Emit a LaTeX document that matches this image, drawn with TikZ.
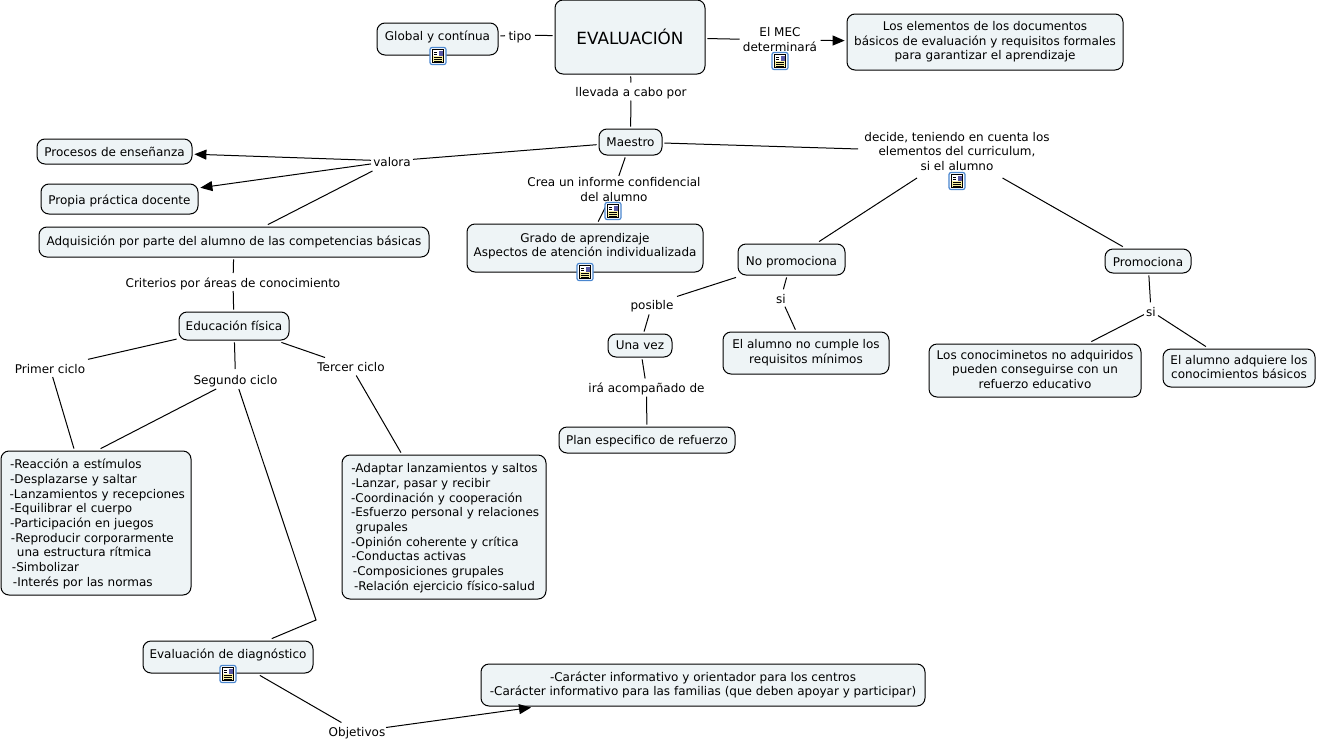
\documentclass[tikz,border=0pt]{standalone}
\usepackage{fontspec}
\setmainfont{DejaVu Sans}
\usetikzlibrary{arrows.meta}
\definecolor{boxfill}{HTML}{EEF4F6}
\definecolor{docyellow}{HTML}{F7EFA0}
\definecolor{iconblue}{HTML}{4A86CF}
\newcommand{\textprop}{\rule[-2.5pt]{0pt}{11.5pt}}
\newcommand{\labelprop}{\rule[-2.5pt]{0pt}{13pt}}
\newcommand{\dnA}[1]{\raisebox{-0.75pt}{#1}}
\newcommand{\dnB}[1]{\raisebox{-1.5pt}{#1}}
\tikzset{
  sz/.style 2 args={minimum width=#1*0.75pt,minimum height=#2*0.75pt},
  concept/.style={draw=black,line width=0.75pt,fill=boxfill,rounded corners=6pt,inner sep=0pt,outer sep=1.8pt,align=center,font=\fontsize{9}{11}\selectfont,execute at begin node=\textprop,execute at end node=\textprop},
  leftlist/.style={concept,align=left},
  linklabel/.style={inner sep=0pt,outer sep=0pt,align=center,font=\fontsize{9}{11}\selectfont,execute at begin node=\labelprop,execute at end node=\labelprop},
  conn/.style={draw=black,line width=0.75pt},
  arrowconn/.style={conn,-{Triangle[length=9pt,width=7.5pt]}},
  noteicon/.pic={
    \draw[iconblue,line width=0.9pt,fill=white,rounded corners=1.5pt] (-8,-8.5) rectangle (8,8.5);
    \draw[black,line width=0.5pt,fill=docyellow] (-5.5,-6.5) rectangle (5.5,6.5);
    \fill[white] (-5,-6) rectangle (5,0);
    \fill[gray!70!blue] (0.5,-5.5) rectangle (5,-0.5);
    \draw[black,line width=0.5pt] (-4,-4) -- (-1,-4) (-4,-1.5) -- (-1,-1.5) (-4,1) -- (4,1) (-4,3) -- (4,3) (-4,5) -- (4,5);
  }
}
\begin{document}
\begin{tikzpicture}[x=0.75pt,y=-0.75pt]
\useasboundingbox (0,0) rectangle (1318,743);
% concepts
\node[concept,font=\fontsize{12.6}{14}\selectfont,sz={150}{74}] (eval) at (630,37) {\raisebox{-2.4pt}{EVALUACIÓN}};
\node[concept,sz={121}{32}] (global) at (437.5,39) {\raisebox{2.5pt}{Global y contínua}};
\node[concept,sz={276}{56}] (docs) at (985,42) {\dnA{Los elementos de los documentos}\\\dnA{básicos de evaluación y requisitos formales}\\\dnA{para garantizar el aprendizaje}};
\node[concept,sz={63}{26}] (maestro) at (630.5,142) {Maestro};
\node[concept,sz={155}{25}] (procesos) at (114.5,151.5) {\raisebox{-0.7pt}{Procesos de enseñanza}};
\node[concept,sz={157}{30}] (propia) at (119.5,199) {\raisebox{-0.7pt}{Propia práctica docente}};
\node[concept,sz={390}{30}] (adq) at (234,242) {\raisebox{0.7pt}{Adquisición por parte del alumno de las competencias básicas}};
\node[concept,sz={236}{48}] (grado) at (585,248) {\raisebox{1.75pt}{Grado de aprendizaje}\\\raisebox{2.25pt}{Aspectos de atención individualizada}};
\node[concept,sz={107}{31}] (nopro) at (791.5,259.5) {\raisebox{-1.5pt}{No promociona}};
\node[concept,sz={86}{24}] (pro) at (1148,261) {\raisebox{-0.7pt}{Promociona}};
\node[concept,sz={110}{28}] (edfis) at (234,326) {Educación física};
\node[concept,sz={64}{23}] (unavez) at (640,345.5) {Una vez};
\node[concept,sz={166}{42}] (nocumple) at (806,353) {\dnA{El alumno no cumple los}\\\dnA{requisitos mínimos}};
\node[concept,sz={176}{26}] (plan) at (647,440) {Plan especifico de refuerzo};
\node[concept,sz={212}{53}] (nogan) at (1035,370.5) {\dnA{Los conociminetos no adquiridos}\\\dnA{pueden conseguirse con un}\\\dnA{refuerzo educativo}};
\node[concept,sz={152}{38}] (adquiere) at (1239,368) {\dnA{El alumno adquiere los}\\\dnA{conocimientos básicos}};
\node[leftlist,sz={190}{144},text width=142.5pt] (lista) at (96,523) {\hspace*{6.8pt}-Reacción a estímulos\\\hspace*{6.8pt}-Desplazarse y saltar\\\hspace*{6.5pt}-Lanzamientos y recepciones\\\hspace*{6.8pt}-Equilibrar el cuerpo\\\hspace*{6.8pt}-Participación en juegos\\\hspace*{7.5pt}-Reproducir corporarmente\\\hspace*{12pt}una estructura rítmica\\\hspace*{8.2pt}-Simbolizar\\\hspace*{9pt}-Interés por las normas};
\node[leftlist,sz={204}{144},text width=153pt] (listb) at (444,527) {\hspace*{7pt}-Adaptar lanzamientos y saltos\\\hspace*{7pt}-Lanzar, pasar y recibir\\\hspace*{6.8pt}-Coordinación y cooperación\\\hspace*{6.8pt}-Esfuerzo personal y relaciones\\\hspace*{10.3pt}grupales\\\hspace*{6.8pt}-Opinión coherente y crítica\\\hspace*{7.3pt}-Conductas activas\\\hspace*{8.2pt}-Composiciones grupales\\\hspace*{9pt}-Relación ejercicio físico-salud};
\node[concept,sz={170}{32}] (diag) at (228,657) {\raisebox{2.5pt}{Evaluación de diagnóstico}};
\node[concept,sz={444}{42}] (caract) at (703,685) {\dnA{-Carácter informativo y orientador para los centros}\\\dnA{-Carácter informativo para las familias (que deben apoyar y participar)}};
% link labels
\node[linklabel,sz={30}{16}] (tipo) at (520,35) {tipo};
\node[linklabel,sz={81}{30}] (mec) at (780,40) {\dnB{El MEC}\\\dnB{determinará}};
\node[linklabel,sz={124}{18}] (llevada) at (631,91.5) {llevada a cabo por};
\node[linklabel,sz={42}{20}] (valora) at (392,161) {valora};
\node[linklabel,sz={176}{28}] (crea) at (614,190) {\dnB{Crea un informe confidencial}\\\dnB{del alumno}};
\node[linklabel,sz={198}{52}] (decide) at (957,152) {\dnB{decide, teniendo en cuenta los}\\\dnB{elementos del curriculum,}\\\dnB{si el alumno}};
\node[linklabel,sz={218}{18}] (criterios) at (233,282) {Criterios por áreas de conocimiento};
\node[linklabel,sz={50}{20}] (posible) at (652,304.5) {posible};
\node[linklabel,sz={14}{16}] (sia) at (781,298) {si};
\node[linklabel,sz={14}{16}] (sib) at (1151,311) {si};
\node[linklabel,sz={120}{18}] (ira) at (646.5,387.5) {irá acompañado de};
\node[linklabel,sz={76}{18}] (primer) at (50,368) {Primer ciclo};
\node[linklabel,sz={88}{20}] (segundo) at (235.5,379) {Segundo ciclo};
\node[linklabel,sz={74}{18}] (tercer) at (351,366.5) {Tercer ciclo};
\node[linklabel,sz={58}{18}] (objetivos) at (357,731.5) {Objetivos};
\coordinate (bend) at (316,620);
\coordinate (caractin) at (531,707.5);
% connectors
\draw[conn] (global) -- (tipo);
\draw[conn] (tipo) -- (eval);
\draw[conn] (eval) -- (mec);
\draw[arrowconn] (mec) -- (docs);
\draw[conn] (eval) -- (llevada);
\draw[conn] (llevada) -- (maestro);
\draw[conn] (maestro) -- (valora);
\draw[arrowconn] (valora) -- (procesos);
\draw[arrowconn] (valora) -- (propia);
\draw[conn] (valora) -- (adq);
\draw[conn] (adq) -- (criterios);
\draw[conn] (criterios) -- (edfis);
\draw[conn] (edfis) -- (primer);
\draw[conn] (edfis) -- (segundo);
\draw[conn] (edfis) -- (tercer);
\draw[conn] (primer) -- (lista);
\draw[conn] (segundo) -- ([xshift=3.5pt]lista.north);
\draw[conn] (tercer) -- (listb);
\draw[conn] (segundo) -- (bend) -- (diag);
\draw[conn] (diag) -- (objetivos);
\draw[arrowconn] (objetivos) -- (caractin);
\draw[conn] (maestro) -- (crea);
\draw[conn] (crea) -- (grado);
\draw[conn] (maestro) -- (decide);
\draw[conn] (decide) -- (nopro);
\draw[conn] (decide) -- (pro);
\draw[conn] (nopro) -- (posible);
\draw[conn] (posible) -- (unavez);
\draw[conn] (nopro) -- (sia);
\draw[conn] (sia) -- (nocumple);
\draw[conn] (unavez) -- (ira);
\draw[conn] (ira) -- (plan);
\draw[conn] (pro) -- (sib);
\draw[conn] (sib) -- (nogan);
\draw[conn] (sib) -- (adquiere);
% icons
\pic at (438,56) {noteicon};
\pic at (780,61) {noteicon};
\pic at (613,211) {noteicon};
\pic at (585,272) {noteicon};
\pic at (957,181) {noteicon};
\pic at (228,674) {noteicon};
\end{tikzpicture}
\end{document}
